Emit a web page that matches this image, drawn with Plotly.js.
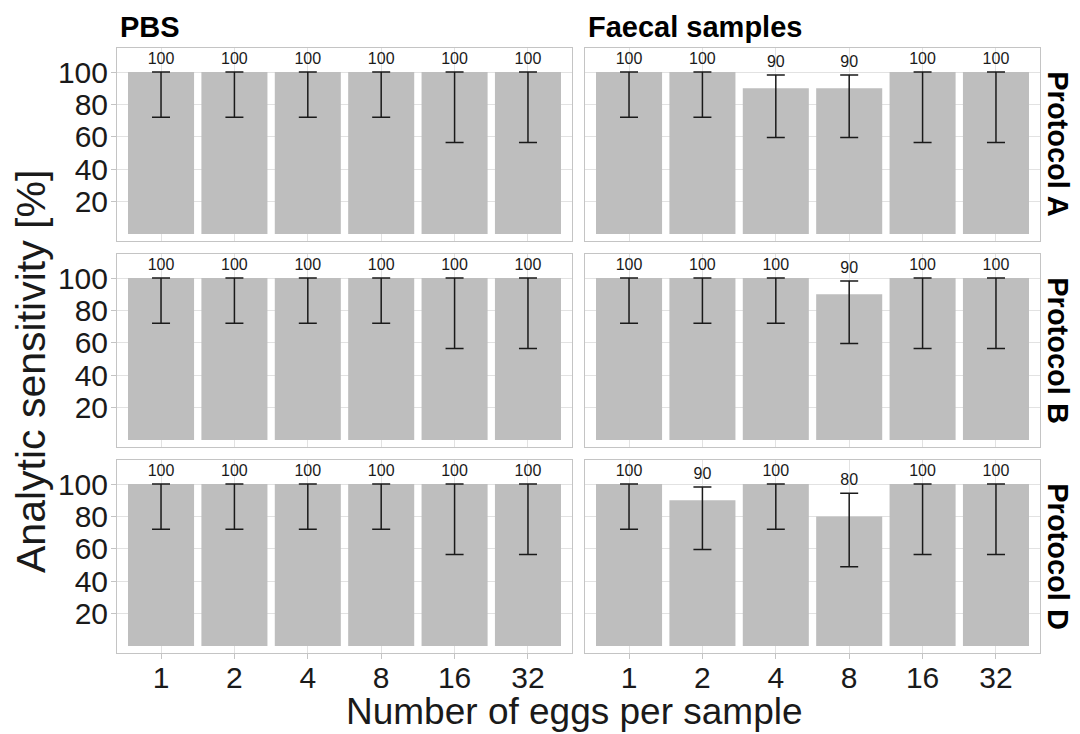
<!DOCTYPE html>
<html>
<head>
<meta charset="utf-8">
<script src="https://cdn.plot.ly/plotly-3.0.1.min.js"></script>
<style>html,body{margin:0;padding:0;background:#fff;}#plot{width:1080px;height:734px;}</style>
</head>
<body>
<div id="plot"></div>
<script>
// ---- data ----
const eggs = ['1', '2', '4', '8', '16', '32'];
const columns = ['PBS', 'Faecal samples'];
const protocols = ['Protocol A', 'Protocol B', 'Protocol D'];

// PBS (same for all protocols)
const pbsA_val = [100, 100, 100, 100, 100, 100];
const pbsA_low = [72.2, 72.2, 72.2, 72.2, 56.6, 56.6];
const pbsA_up  = [100, 100, 100, 100, 100, 100];
const pbsB_val = [100, 100, 100, 100, 100, 100];
const pbsB_low = [72.2, 72.2, 72.2, 72.2, 56.6, 56.6];
const pbsB_up  = [100, 100, 100, 100, 100, 100];
const pbsD_val = [100, 100, 100, 100, 100, 100];
const pbsD_low = [72.2, 72.2, 72.2, 72.2, 56.6, 56.6];
const pbsD_up  = [100, 100, 100, 100, 100, 100];

// Faecal samples
const faeA_val = [100, 100, 90, 90, 100, 100];
const faeA_low = [72.2, 72.2, 59.6, 59.6, 56.6, 56.6];
const faeA_up  = [100, 100, 98.2, 98.2, 100, 100];
const faeB_val = [100, 100, 100, 90, 100, 100];
const faeB_low = [72.2, 72.2, 72.2, 59.6, 56.6, 56.6];
const faeB_up  = [100, 100, 100, 98.2, 100, 100];
const faeD_val = [100, 90, 100, 80, 100, 100];
const faeD_low = [72.2, 59.6, 72.2, 49.0, 56.6, 56.6];
const faeD_up  = [100, 98.2, 100, 94.3, 100, 100];

const yTicks = [20, 40, 60, 80, 100];

const panels = [
  [{v: pbsA_val, lo: pbsA_low, up: pbsA_up}, {v: faeA_val, lo: faeA_low, up: faeA_up}],
  [{v: pbsB_val, lo: pbsB_low, up: pbsB_up}, {v: faeB_val, lo: faeB_low, up: faeB_up}],
  [{v: pbsD_val, lo: pbsD_low, up: pbsD_up}, {v: faeD_val, lo: faeD_low, up: faeD_up}]
];

// ---- layout geometry (pixels in a 1080x734 canvas) ----
const W = 1080, H = 734;
const colX = [[117, 572], [585, 1040]];
const rowY = [[47.5, 241], [253.5, 447], [459.5, 653]];
const font = 'Liberation Sans, Arial, Helvetica, sans-serif';
const gridCol = '#e2e2e2', borderCol = '#c4c4c4', textCol = '#1a1a1a';

const data = [];
const layout = {
  width: W, height: H,
  margin: {l: 0, r: 0, t: 0, b: 0},
  paper_bgcolor: '#ffffff', plot_bgcolor: '#ffffff',
  showlegend: false,
  font: {family: font, color: textCol},
  annotations: []
};

for (let r = 0; r < 3; r++) {
  for (let c = 0; c < 2; c++) {
    const idx = r * 2 + c + 1;
    const xa = 'x' + (idx === 1 ? '' : idx), ya = 'y' + (idx === 1 ? '' : idx);
    const p = panels[r][c];
    data.push({
      type: 'bar', x: eggs, y: p.v, xaxis: xa, yaxis: ya, width: 0.9,
      marker: {color: '#bebebe', line: {width: 0}},
      error_y: {
        type: 'data', symmetric: false,
        array: p.up.map((u, i) => u - p.v[i]),
        arrayminus: p.v.map((v, i) => v - p.lo[i]),
        color: '#1a1a1a', thickness: 1.5, width: 9
      },
      hoverinfo: 'skip'
    });
    data.push({
      type: 'scatter', mode: 'text', x: eggs, y: p.up.map(u => u + 7.5),
      text: p.v.map(String), textposition: 'middle center',
      textfont: {size: 16, color: textCol, family: font},
      xaxis: xa, yaxis: ya, hoverinfo: 'skip', cliponaxis: false
    });
    const xk = 'xaxis' + (idx === 1 ? '' : idx), yk = 'yaxis' + (idx === 1 ? '' : idx);
    layout[xk] = {
      type: 'category', range: [-0.6, 5.6], anchor: ya,
      domain: [colX[c][0] / W, colX[c][1] / W],
      showgrid: true, gridcolor: gridCol, gridwidth: 1,
      showline: true, mirror: true, linecolor: borderCol, linewidth: 1,
      ticks: r === 2 ? 'outside' : '', ticklen: 5, tickcolor: borderCol,
      ticklabelstandoff: -7,
      showticklabels: r === 2, tickfont: {size: 30, color: textCol, family: font},
      zeroline: false, fixedrange: true
    };
    layout[yk] = {
      range: [-4.3, 115.2], anchor: xa,
      domain: [1 - rowY[r][1] / H, 1 - rowY[r][0] / H],
      tickvals: yTicks, showgrid: true, gridcolor: gridCol, gridwidth: 1,
      showline: true, mirror: true, linecolor: borderCol, linewidth: 1,
      ticks: c === 0 ? 'outside' : '', ticklen: 5, tickcolor: borderCol,
      ticklabelstandoff: -3,
      showticklabels: c === 0, tickfont: {size: 30, color: textCol, family: font},
      zeroline: false, fixedrange: true
    };
  }
}

// strip titles (columns)
columns.forEach((t, c) => {
  layout.annotations.push({
    text: '<b>' + t + '</b>', xref: 'paper', yref: 'paper',
    x: (colX[c][0] + 1) / W, y: 1 - 27 / H, xanchor: 'left', yanchor: 'middle',
    showarrow: false, font: {size: 29, color: '#000', family: font}
  });
});
// strip titles (rows)
protocols.forEach((t, r) => {
  layout.annotations.push({
    text: '<b>' + t + '</b>', xref: 'paper', yref: 'paper',
    x: 1058 / W, y: 1 - (rowY[r][0] + rowY[r][1]) / 2 / H, xanchor: 'center', yanchor: 'middle',
    textangle: 90, showarrow: false, font: {size: 29, color: '#000', family: font}
  });
});
// axis titles
layout.annotations.push({
  text: 'Number of eggs per sample', xref: 'paper', yref: 'paper',
  x: 574 / W, y: 1 - 711 / H, xanchor: 'center', yanchor: 'middle',
  showarrow: false, font: {size: 37, color: textCol, family: font}
});
layout.annotations.push({
  text: 'Analytic sensitivity [%]', xref: 'paper', yref: 'paper',
  x: 31 / W, y: 1 - 372 / H, xanchor: 'center', yanchor: 'middle',
  textangle: -90, showarrow: false, font: {size: 41, color: textCol, family: font}
});

Plotly.newPlot('plot', data, layout, {staticPlot: true, displayModeBar: false});
</script>
</body>
</html>
